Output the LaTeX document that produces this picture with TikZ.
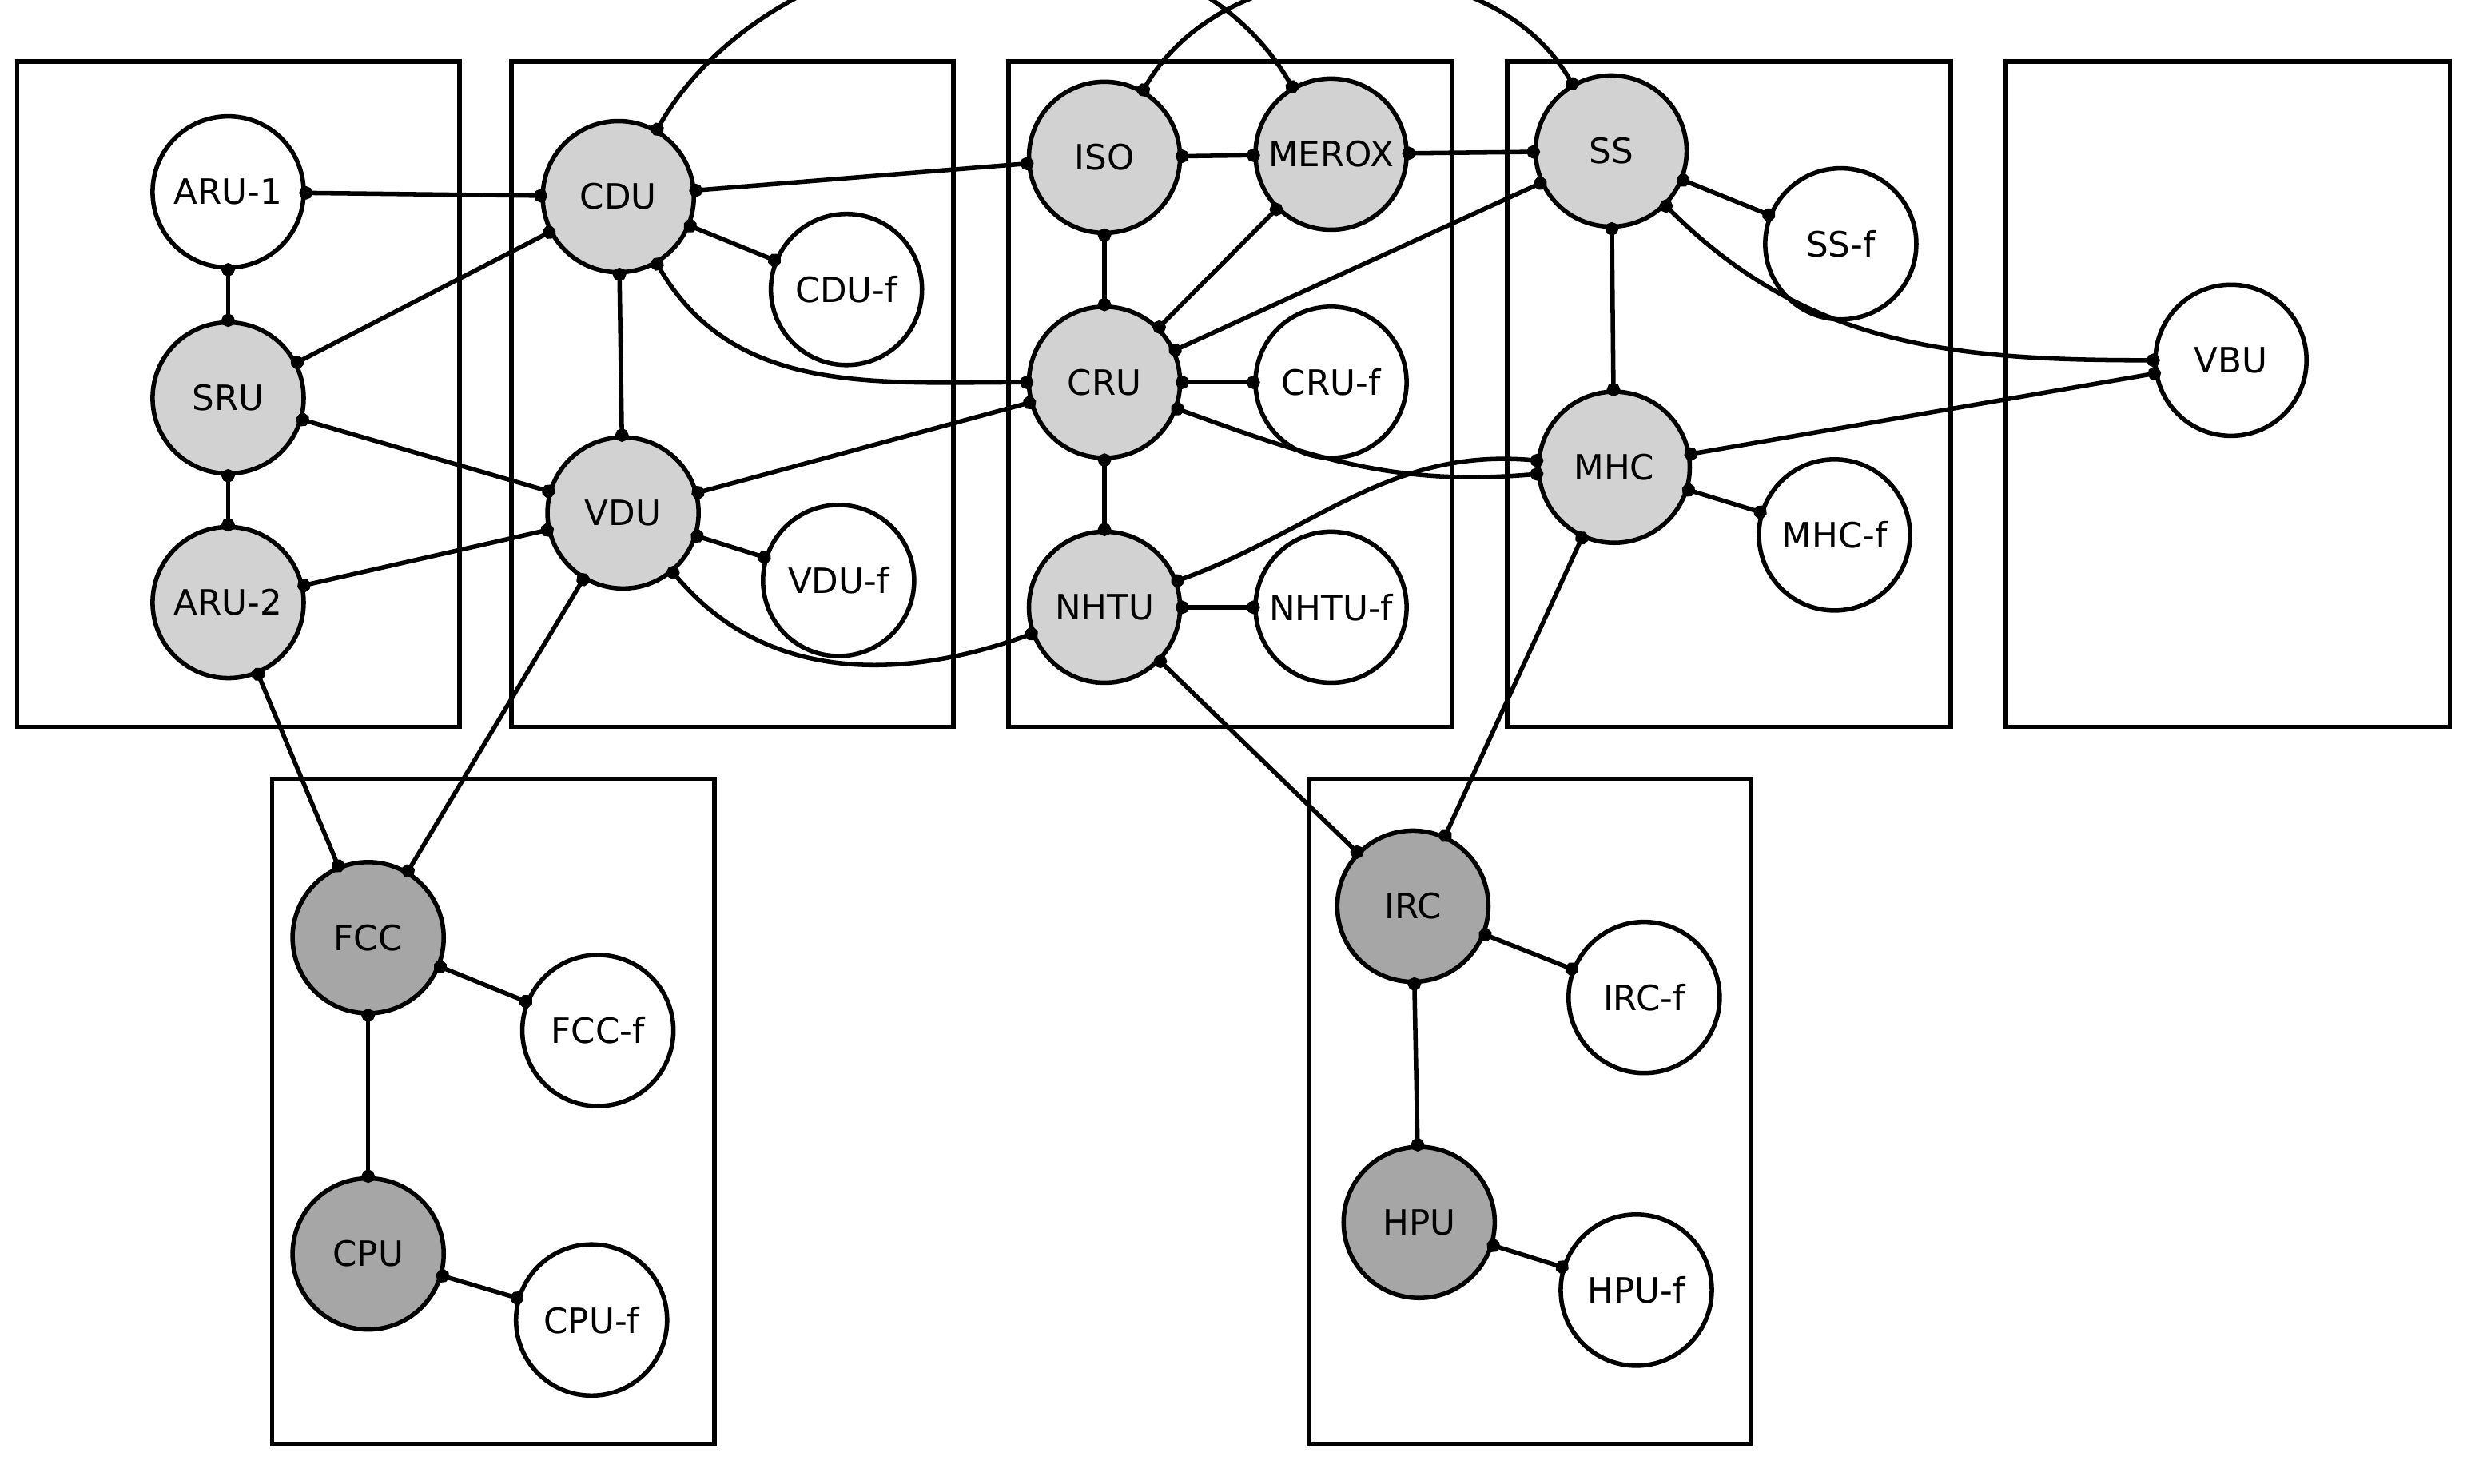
\documentclass[tikz,border=0pt]{standalone}
\usepackage{fontspec}
\setmainfont{DejaVu Sans}
\usetikzlibrary{arrows.meta}
\tikzset{
  unit/.style={circle, draw, thick, fill=gray!35, minimum size=0.96cm, inner sep=0pt, font=\fontsize{6.3}{7}\selectfont},
  heavy/.style={unit, fill=gray!70},
  feed/.style={unit, fill=white},
  area/.style={draw, thick},
  link/.style={thick, {Circle[length=2.4pt]}-{Circle[length=2.4pt]}, shorten <=-1.2pt, shorten >=-1.2pt}
}
\begin{document}
\begin{tikzpicture}[x=0.01cm, y=-0.01cm]
  \useasboundingbox (0,0) rectangle (1568,943);
  % areas
  \draw[area] (11,39) rectangle (292,462);
  \draw[area] (325,39) rectangle (606,462);
  \draw[area] (641,39) rectangle (923,462);
  \draw[area] (958,39) rectangle (1240,462);
  \draw[area] (1275,39) rectangle (1557,462);
  \draw[area] (173,495) rectangle (454,918);
  \draw[area] (832,495) rectangle (1113,918);

  % units
  \node[feed] (aru1) at (145,122) {ARU-1};
  \node[unit] (sru) at (145,253) {SRU};
  \node[unit] (aru2) at (145,383) {ARU-2};
  \node[unit] (cdu) at (393,125) {CDU};
  \node[unit] (vdu) at (396,326) {VDU};
  \node[feed] (cduf) at (538,184) {CDU-f};
  \node[feed] (vduf) at (533,369) {VDU-f};
  \node[unit] (iso) at (702,100) {ISO};
  \node[unit] (merox) at (846,98) {MEROX};
  \node[unit] (cru) at (702,243) {CRU};
  \node[feed] (cruf) at (846,243) {CRU-f};
  \node[unit] (nhtu) at (702,386) {NHTU};
  \node[feed] (nhtuf) at (846,386) {NHTU-f};
  \node[unit] (ss) at (1024,96) {SS};
  \node[feed] (ssf) at (1170,155) {SS-f};
  \node[unit] (mhc) at (1026,297) {MHC};
  \node[feed] (mhcf) at (1166,340) {MHC-f};
  \node[feed] (vbu) at (1418,229) {VBU};
  \node[heavy] (fcc) at (234,596) {FCC};
  \node[feed] (fccf) at (380,655) {FCC-f};
  \node[heavy] (cpu) at (234,797) {CPU};
  \node[feed] (cpuf) at (376,839) {CPU-f};
  \node[heavy] (irc) at (898,576) {IRC};
  \node[feed] (ircf) at (1045,634) {IRC-f};
  \node[heavy] (hpu) at (902,777) {HPU};
  \node[feed] (hpuf) at (1040,820) {HPU-f};

  % straight links
  \foreach \a/\b in {aru1/sru, sru/aru2, aru1/cdu, sru/cdu, sru/vdu, aru2/vdu,
    cdu/cduf, vdu/vduf, cdu/vdu, cdu/iso, iso/merox, iso/cru, merox/cru, merox/ss,
    cru/cruf, cru/nhtu, nhtu/nhtuf, cru/ss, vdu/cru, ss/ssf, ss/mhc, mhc/mhcf,
    mhc/vbu, aru2/fcc, vdu/fcc, fcc/fccf, fcc/cpu, cpu/cpuf, nhtu/irc, mhc/irc,
    irc/ircf, irc/hpu, hpu/hpuf}
    \draw[link] (\a) -- (\b);

  % curved links
  \draw[link] (cdu) to[out=-60, in=180] (cru);
  \draw[link] (vdu) to[out=-50, in=200] (nhtu);
  \draw[link] (cdu) to[out=60, in=120] (merox);
  \draw[link] (iso) to[out=60, in=120] (ss);
  \draw[link] (ss) to[out=-45, in=180] (vbu);
  \draw[link] (cru) to[out=-20, in=185] (mhc);
  \draw[link] (nhtu) to[out=20, in=175] (mhc);
\end{tikzpicture}
\end{document}
